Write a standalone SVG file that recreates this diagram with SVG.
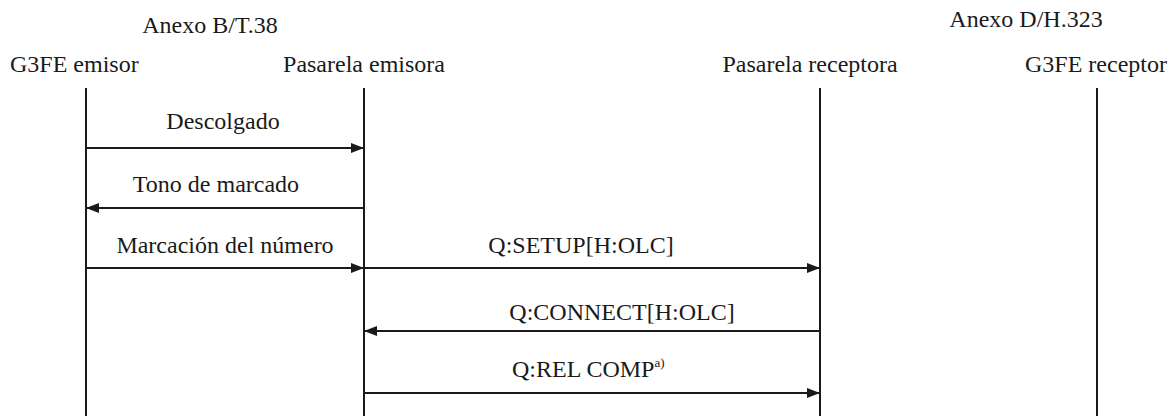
<svg xmlns="http://www.w3.org/2000/svg" width="1174" height="416" viewBox="0 0 1174 416" font-family="'Liberation Serif', 'DejaVu Serif', serif">
<style>
text{font-family:'Liberation Serif','DejaVu Serif',serif;font-size:24px;fill:#1a1a1a}
.sup{font-size:13px}
.life{stroke:#1a1a1a;stroke-width:2;fill:none}
.msg{stroke:#1a1a1a;stroke-width:2;fill:none}
</style>
<defs>
<marker id="ah" viewBox="0 0 13 10" refX="13" refY="5" markerWidth="13" markerHeight="10" markerUnits="userSpaceOnUse" orient="auto">
<path d="M0,0 L13,5 L0,10 Z" fill="#1a1a1a"/>
</marker>
</defs>
<rect width="1174" height="416" fill="#ffffff"/>
<text x="210" y="33" text-anchor="middle">Anexo B/T.38</text>
<text x="1026" y="27" text-anchor="middle">Anexo D/H.323</text>
<g id="g3fe-emisor">
<text x="10" y="72">G3FE emisor</text>
<line class="life" x1="86" y1="88" x2="86" y2="416"/>
</g>
<g id="pasarela-emisora">
<text x="364" y="72" text-anchor="middle">Pasarela emisora</text>
<line class="life" x1="364" y1="88" x2="364" y2="416"/>
</g>
<g id="pasarela-receptora">
<text x="810" y="72" text-anchor="middle">Pasarela receptora</text>
<line class="life" x1="820" y1="88" x2="820" y2="416"/>
</g>
<g id="g3fe-receptor">
<text x="1096" y="72" text-anchor="middle">G3FE receptor</text>
<line class="life" x1="1097" y1="88" x2="1097" y2="416"/>
</g>
<g id="connectors">
<line class="msg" x1="86" y1="148" x2="364" y2="148" marker-end="url(#ah)"/>
<text x="223" y="129" text-anchor="middle">Descolgado</text>
<line class="msg" x1="364" y1="208" x2="86" y2="208" marker-end="url(#ah)"/>
<text x="216" y="192" text-anchor="middle">Tono de marcado</text>
<line class="msg" x1="86" y1="268" x2="364" y2="268" marker-end="url(#ah)"/>
<text x="225" y="253" text-anchor="middle">Marcación del número</text>
<line class="msg" x1="364" y1="268" x2="820" y2="268" marker-end="url(#ah)"/>
<text x="581" y="253" text-anchor="middle">Q:SETUP[H:OLC]</text>
<line class="msg" x1="820" y1="331" x2="364" y2="331" marker-end="url(#ah)"/>
<text x="622" y="320" text-anchor="middle">Q:CONNECT[H:OLC]</text>
<line class="msg" x1="364" y1="393" x2="820" y2="393" marker-end="url(#ah)"/>
<text x="512" y="377">Q:REL COMP<tspan class="sup" dy="-10">a)</tspan></text>
</g>
</svg>
